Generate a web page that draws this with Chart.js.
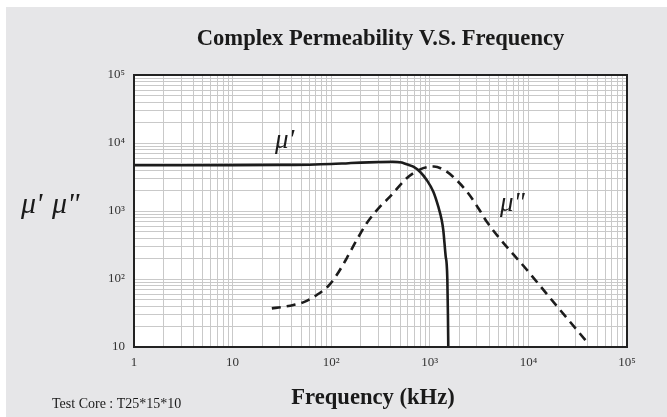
<!DOCTYPE html>
<html>
<head>
<meta charset="utf-8">
<script src="https://cdn.jsdelivr.net/npm/chart.js@4.4.1/dist/chart.umd.min.js"></script>
<style>
  html, body { margin: 0; padding: 0; background: #ffffff; }
  #wrap { width: 667px; height: 417px; position: relative; }
</style>
</head>
<body>
<div id="wrap"><canvas id="chart" width="667" height="417"></canvas></div>
<script>
// Real part of permeability (mu') against frequency in kHz
const freqReal = [1, 3, 10, 30, 60, 100, 150, 200, 300, 420, 520, 583, 680, 795, 930, 1086, 1220, 1320, 1370, 1450, 1480, 1506, 1527, 1540];
const muReal   = [4700, 4700, 4720, 4760, 4800, 4900, 5050, 5150, 5250, 5300, 5150, 4860, 4480, 3780, 2860, 1920, 1157, 738, 525, 213, 172, 100, 30, 10];

// Imaginary part of permeability (mu'') against frequency in kHz
const freqImag = [25, 32.7, 41.3, 54.2, 71.3, 93.5, 113.7, 143.6, 181.4, 229, 312.6, 394.7, 583, 800, 1000, 1100, 1400, 1720, 2400, 3240, 3770, 10000, 20000, 39000];
const muImag   = [37, 39, 41.5, 46.4, 58.2, 78.9, 114.5, 201.6, 374.7, 659, 1156, 1623, 3030, 4100, 4480, 4520, 4000, 3190, 1900, 1000, 700, 128, 38, 12];

// Decade tick labels
const xDecadeLabels = ['1', '10', '10\u00B2', '10\u00B3', '10\u2074', '10\u2075'];
const yDecadeLabels = ['10', '10\u00B2', '10\u00B3', '10\u2074', '10\u2075'];

const SERIF = '"Liberation Serif", "Times New Roman", serif';

function pairs(xs, ys) { return xs.map((x, i) => ({ x: x, y: ys[i] })); }

// 1..9 x 10^k ticks so every log grid line is drawn
function logTicks(minExp, maxExp) {
  const t = [];
  for (let e = minExp; e < maxExp; e++) {
    for (let m = 1; m <= 9; m++) t.push({ value: m * Math.pow(10, e) });
  }
  t.push({ value: Math.pow(10, maxExp) });
  return t;
}

function decadeLabel(value, labels, firstExp) {
  const e = Math.log10(value);
  if (Math.abs(e - Math.round(e)) < 1e-9) {
    return labels[Math.round(e) - firstExp] || '';
  }
  return '';
}

const backdrop = {
  id: 'backdrop',
  beforeDraw(chart) {
    const ctx = chart.ctx, a = chart.chartArea;
    ctx.save();
    ctx.fillStyle = '#ffffff';
    ctx.fillRect(0, 0, chart.width, chart.height);
    ctx.fillStyle = '#e6e6e8';
    ctx.fillRect(6, 7, chart.width - 6, chart.height - 7);
    ctx.fillStyle = '#ffffff';
    ctx.fillRect(a.left, a.top, a.right - a.left, a.bottom - a.top);
    ctx.restore();
  }
};

const frameAndText = {
  id: 'frameAndText',
  afterDatasetsDraw(chart) {
    const ctx = chart.ctx, a = chart.chartArea;
    ctx.save();
    ctx.strokeStyle = '#222222';
    ctx.lineWidth = 2;
    ctx.strokeRect(a.left, a.top, a.right - a.left, a.bottom - a.top);
    ctx.restore();
  },
  afterDraw(chart) {
    const ctx = chart.ctx, a = chart.chartArea;
    ctx.save();
    ctx.fillStyle = '#1a1a1a';
    ctx.textBaseline = 'alphabetic';

    ctx.textAlign = 'center';
    ctx.font = 'bold 22.6px ' + SERIF;
    ctx.fillText('Complex Permeability V.S. Frequency', (a.left + a.right) / 2, 45);

    ctx.font = 'bold 22.6px ' + SERIF;
    ctx.fillText('Frequency (kHz)', 373, 404);

    ctx.textAlign = 'left';
    ctx.font = '14px ' + SERIF;
    ctx.fillText('Test Core : T25*15*10', 52, 408);

    ctx.font = 'italic 30px ' + SERIF;
    ctx.fillText("\u03BC'", 21, 213);
    ctx.fillText('\u03BC"', 52, 213);

    ctx.font = 'italic 27px ' + SERIF;
    ctx.fillText("\u03BC'", 275, 148);
    ctx.fillText('\u03BC"', 500, 211);
    ctx.restore();
  }
};

new Chart(document.getElementById('chart'), {
  type: 'line',
  data: {
    datasets: [
      {
        label: "\u03BC'",
        data: pairs(freqReal, muReal),
        borderColor: '#1c1c1c',
        borderWidth: 2.6,
        pointRadius: 0,
        fill: false,
        cubicInterpolationMode: 'monotone'
      },
      {
        label: "\u03BC''",
        data: pairs(freqImag, muImag),
        borderColor: '#1c1c1c',
        borderWidth: 2.6,
        borderDash: [9, 6],
        pointRadius: 0,
        fill: false,
        cubicInterpolationMode: 'monotone'
      }
    ]
  },
  options: {
    responsive: false,
    animation: false,
    devicePixelRatio: 1,
    layout: { padding: { left: 0, top: 75, right: 40, bottom: 0 } },
    plugins: {
      legend: { display: false },
      tooltip: { enabled: false },
      title: { display: false }
    },
    scales: {
      x: {
        type: 'logarithmic',
        min: 1,
        max: 100000,
        afterBuildTicks(scale) { scale.ticks = logTicks(0, 5); },
        afterFit(scale) { scale.height = 70; },
        grid: { color: '#c9c9c9', lineWidth: 1, drawTicks: false },
        border: { display: false },
        ticks: {
          autoSkip: false,
          maxRotation: 0,
          padding: 8,
          color: '#333333',
          font: { family: SERIF, size: 13 },
          callback: (v) => decadeLabel(v, xDecadeLabels, 0)
        }
      },
      y: {
        type: 'logarithmic',
        min: 10,
        max: 100000,
        afterBuildTicks(scale) { scale.ticks = logTicks(1, 5); },
        afterFit(scale) { scale.width = 134; },
        grid: { color: '#c9c9c9', lineWidth: 1, drawTicks: false },
        border: { display: false },
        ticks: {
          autoSkip: false,
          padding: 9,
          color: '#333333',
          font: { family: SERIF, size: 13 },
          callback: (v) => decadeLabel(v, yDecadeLabels, 1)
        }
      }
    }
  },
  plugins: [backdrop, frameAndText]
});
</script>
</body>
</html>
